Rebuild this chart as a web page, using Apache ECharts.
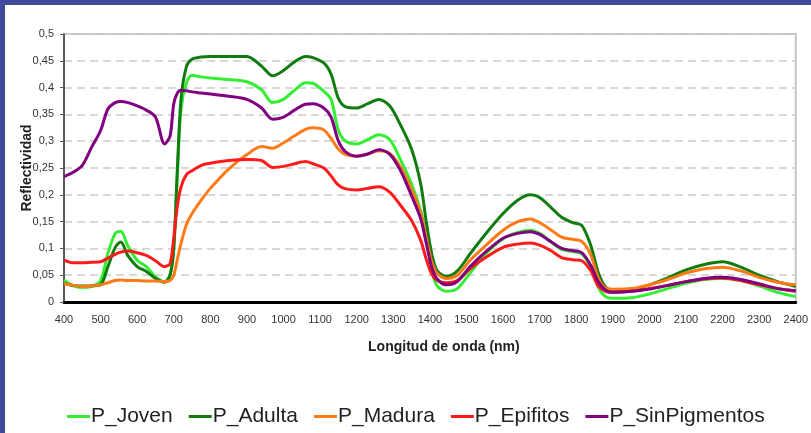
<!DOCTYPE html>
<head>
    <meta charset="utf-8">
    <title>Reflectividad</title>
    <style>
        html, body {
            width: 100%;
            height: 100%;
            margin: 0;
            background: #fff;
        }
        #main {
            width: 811px;
            height: 433px;
        }
    </style>
</head>
<body>
<div id="main"></div>
<script src="https://cdn.jsdelivr.net/npm/echarts@6/dist/echarts.min.js"></script>
<script type="text/javascript">
  var wavelength = [400, 425, 450, 475, 500, 520, 540, 555, 575, 600, 625, 650, 675, 690, 700, 710, 720, 735, 750, 775,
    800, 850, 900, 940, 970, 1000, 1030, 1060, 1080, 1110, 1130, 1150, 1170, 1200, 1230, 1260, 1290, 1320, 1350, 1375,
    1390, 1405, 1420, 1445, 1475, 1510, 1550, 1600, 1640, 1675, 1700, 1730, 1760, 1790, 1815, 1840, 1860, 1880, 1900, 1950,
    2000, 2050, 2100, 2150, 2200, 2250, 2300, 2350, 2400];

  var joven = [0.041, 0.030, 0.027, 0.029, 0.040, 0.091, 0.128, 0.132, 0.104, 0.078, 0.066, 0.047, 0.038, 0.052, 0.100, 0.240, 0.360, 0.410, 0.423, 0.420,
    0.418, 0.415, 0.411, 0.396, 0.372, 0.378, 0.395, 0.409, 0.408, 0.393, 0.378, 0.320, 0.300, 0.295, 0.303, 0.312, 0.303, 0.265, 0.220, 0.170,
    0.125, 0.060, 0.030, 0.020, 0.025, 0.054, 0.088, 0.118, 0.130, 0.134, 0.128, 0.113, 0.098, 0.094, 0.090, 0.065, 0.028, 0.010, 0.007, 0.008,
    0.015, 0.025, 0.035, 0.042, 0.044, 0.040, 0.030, 0.018, 0.010];

  var adulta = [0.035, 0.031, 0.030, 0.030, 0.032, 0.066, 0.102, 0.112, 0.086, 0.066, 0.057, 0.044, 0.037, 0.050, 0.100, 0.250, 0.380, 0.440, 0.453, 0.457,
    0.458, 0.458, 0.458, 0.440, 0.422, 0.432, 0.448, 0.458, 0.456, 0.446, 0.425, 0.380, 0.364, 0.362, 0.370, 0.378, 0.366, 0.330, 0.285, 0.220,
    0.150, 0.090, 0.058, 0.048, 0.058, 0.090, 0.125, 0.165, 0.190, 0.200, 0.195, 0.177, 0.158, 0.148, 0.143, 0.105, 0.055, 0.028, 0.022, 0.023,
    0.032, 0.045, 0.060, 0.070, 0.075, 0.065, 0.050, 0.038, 0.029];

  var madura = [0.034, 0.031, 0.029, 0.030, 0.032, 0.036, 0.040, 0.041, 0.040, 0.040, 0.039, 0.039, 0.038, 0.040, 0.050, 0.080, 0.110, 0.145, 0.165, 0.190,
    0.212, 0.248, 0.275, 0.290, 0.287, 0.297, 0.310, 0.322, 0.325, 0.321, 0.305, 0.285, 0.275, 0.272, 0.276, 0.282, 0.277, 0.252, 0.210, 0.165,
    0.120, 0.075, 0.053, 0.044, 0.050, 0.078, 0.104, 0.134, 0.150, 0.155, 0.148, 0.135, 0.121, 0.117, 0.113, 0.088, 0.045, 0.026, 0.024, 0.025,
    0.032, 0.042, 0.054, 0.062, 0.065, 0.058, 0.046, 0.037, 0.032];

  var epifitos = [0.078, 0.073, 0.073, 0.074, 0.075, 0.082, 0.089, 0.093, 0.095, 0.092, 0.087, 0.077, 0.066, 0.072, 0.120, 0.180, 0.215, 0.238, 0.245, 0.255,
    0.259, 0.264, 0.266, 0.264, 0.251, 0.253, 0.258, 0.262, 0.258, 0.250, 0.235, 0.218, 0.211, 0.209, 0.212, 0.215, 0.205, 0.180, 0.152, 0.115,
    0.080, 0.052, 0.040, 0.036, 0.040, 0.062, 0.082, 0.102, 0.108, 0.110, 0.106, 0.096, 0.083, 0.079, 0.077, 0.058, 0.030, 0.020, 0.018, 0.020,
    0.025, 0.031, 0.038, 0.043, 0.045, 0.040, 0.032, 0.025, 0.020];

  var sinPigmentos = [0.234, 0.242, 0.255, 0.288, 0.320, 0.360, 0.372, 0.374, 0.372, 0.366, 0.358, 0.345, 0.295, 0.310, 0.370, 0.390, 0.395, 0.394, 0.392, 0.390,
    0.388, 0.384, 0.378, 0.362, 0.341, 0.345, 0.358, 0.369, 0.370, 0.362, 0.345, 0.300, 0.280, 0.272, 0.276, 0.284, 0.276, 0.245, 0.198, 0.155,
    0.110, 0.065, 0.043, 0.032, 0.038, 0.066, 0.092, 0.119, 0.128, 0.131, 0.126, 0.113, 0.100, 0.096, 0.092, 0.068, 0.038, 0.022, 0.018, 0.020,
    0.024, 0.031, 0.038, 0.044, 0.046, 0.042, 0.034, 0.025, 0.021];

  var seriesNames = ['P_Joven', 'P_Adulta', 'P_Madura', 'P_Epifitos', 'P_SinPigmentos'];
  var seriesColors = ['#33ee33', '#107c10', '#ff7a14', '#ff1a1a', '#800080'];
  var seriesValues = [joven, adulta, madura, epifitos, sinPigmentos];

  function pairs(values) {
    return wavelength.map(function (w, i) { return [w, values[i]]; });
  }

  var myChart = echarts.init(document.getElementById('main'));

  var option = {
    backgroundColor: '#ffffff',
    animation: false,
    textStyle: {fontFamily: 'Liberation Sans'},
    graphic: [
      {type: 'rect', left: 0, top: 0, shape: {width: 811, height: 5}, style: {fill: '#434a9a'}},
      {type: 'rect', left: 0, top: 0, shape: {width: 5, height: 433}, style: {fill: '#434a9a'}}
    ],
    grid: {
      left: 64,
      right: 11,
      top: 34,
      bottom: 131,
      show: true,
      borderColor: '#c4c4c4',
      borderWidth: 2
    },
    legend: {
      data: seriesNames,
      left: 62,
      top: 401,
      icon: 'rect',
      itemWidth: 23,
      itemHeight: 3,
      itemGap: 16,
      textStyle: {fontSize: 21, color: '#222', fontFamily: 'Liberation Sans', padding: [0, 0, 0, -4]}
    },
    xAxis: {
      type: 'value',
      min: 400,
      max: 2400,
      interval: 100,
      name: 'Longitud de onda (nm)',
      nameLocation: 'middle',
      nameGap: 38,
      nameTextStyle: {fontSize: 14, fontWeight: 'bold', color: '#222', padding: [0, 0, 0, 28]},
      axisLine: {lineStyle: {color: '#000', width: 3}},
      axisTick: {show: false},
      axisLabel: {
        fontSize: 11,
        color: '#333',
        margin: 12,
        formatter: function (v) { return String(v); }
      },
      splitLine: {show: false}
    },
    yAxis: {
      type: 'value',
      min: 0,
      max: 0.5,
      interval: 0.05,
      name: 'Reflectividad',
      nameLocation: 'middle',
      nameGap: 30,
      nameMoveOverlap: false,
      nameTextStyle: {fontSize: 14, fontWeight: 'bold', color: '#222'},
      axisLine: {show: true, lineStyle: {color: '#333', width: 1.5}},
      axisTick: {show: true, length: 4, lineStyle: {color: '#555'}},
      axisLabel: {
        fontSize: 11,
        color: '#333',
        margin: 10,
        formatter: function (v) {
          return String(Math.round(v * 100) / 100).replace('.', ',');
        }
      },
      splitLine: {show: true, lineStyle: {color: '#cccccc', type: [8, 5], width: 1.5}}
    },
    series: seriesNames.map(function (name, k) {
      return {
        name: name,
        type: 'line',
        smooth: 0.3,
        showSymbol: false,
        color: seriesColors[k],
        lineStyle: {width: 3, color: seriesColors[k]},
        data: pairs(seriesValues[k])
      };
    })
  };

  myChart.setOption(option);
</script>
</body>
